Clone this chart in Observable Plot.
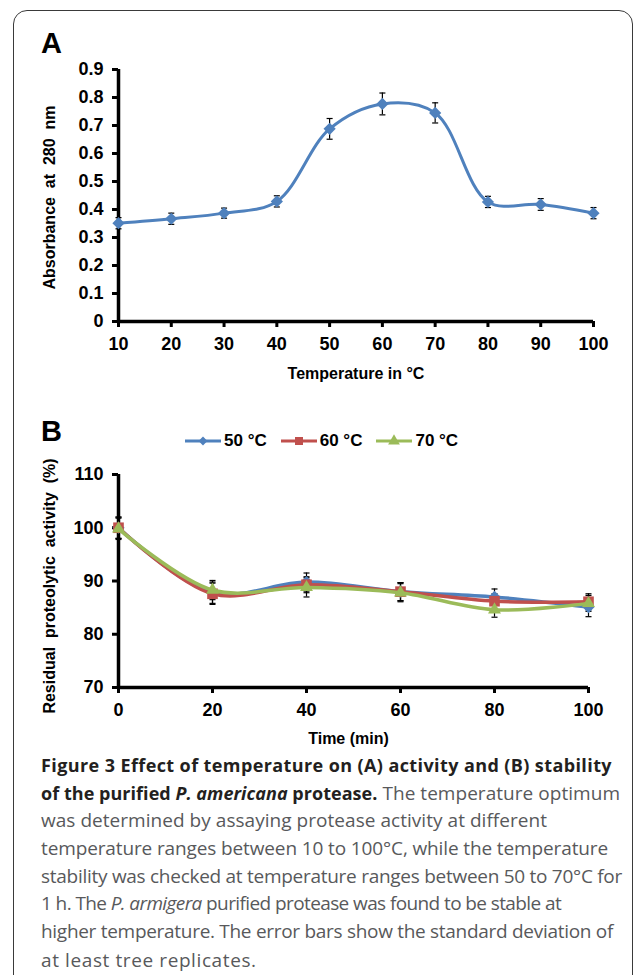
<!DOCTYPE html>
<html>
<head>
<meta charset="utf-8">
<script src="https://cdn.jsdelivr.net/npm/d3@7"></script>
<script src="https://cdn.jsdelivr.net/npm/@observablehq/plot@0.6"></script>
<style>
  html, body { margin: 0; padding: 0; background: #fff; }
  #page { position: relative; width: 634px; height: 975px; overflow: hidden; background: #fff; font-family: "Liberation Sans", Arial, sans-serif; }
  #frame { position: absolute; left: 13px; top: 10px; width: 620px; height: 1000px; border: 1.5px solid #3a3a3a; border-radius: 14px; box-sizing: border-box; }
  .panel-letter { position: absolute; left: 41px; font: bold 29px "Liberation Sans", Arial, sans-serif; line-height: 29px; color: #000; }
  #chartA, #chartB { position: absolute; left: 0; }
  #chartA { top: 0; }
  #chartB { top: 400px; }
  #legend { position: absolute; left: 185px; top: 431px; height: 20px; display: flex; align-items: center; gap: 14px; font: bold 17px "Liberation Sans", Arial, sans-serif; color: #000; }
  #legend .item { display: flex; align-items: center; }
  #legend .item span { margin-left: 3px; white-space: pre; }
  #caption { position: absolute; left: 41px; top: 752px; font-family: "Open Sans", sans-serif; font-size: 19px; line-height: 27.7px; color: #58595b; }
  #caption .ln { white-space: nowrap; height: 27.7px; }
  #caption .ln:last-child { height: 22px; line-height: 22px; padding-top: 3px; }
  #caption .ln > span { display: inline-block; }
  #caption b { color: #231f20; font-weight: 700; font-size: 18px; }
</style>
</head>
<body>
<div id="page">
  <div id="frame"></div>
  <div class="panel-letter" style="top:28.5px">A</div>
  <div class="panel-letter" style="top:416.5px">B</div>
  <div id="chartA"></div>
  <div id="chartB"></div>
  <div id="legend"></div>
  <div id="caption">
    <div class="ln"><span><b>Figure 3 Effect of temperature on (A) activity and (B) stability</b></span></div>
    <div class="ln"><span><b>of the purified <i>P. americana</i> protease.</b> The temperature optimum</span></div>
    <div class="ln"><span>was determined by assaying protease activity at different</span></div>
    <div class="ln"><span>temperature ranges between 10 to 100°C, while the temperature</span></div>
    <div class="ln"><span>stability was checked at temperature ranges between 50 to 70°C for</span></div>
    <div class="ln"><span>1 h. The <i>P. armigera</i> purified protease was found to be stable at</span></div>
    <div class="ln"><span>higher temperature. The error bars show the standard deviation of</span></div>
    <div class="ln"><span>at least tree replicates.</span></div>
  </div>
</div>
<script>
// ---------- Panel A data ----------
const tempA = [10, 20, 30, 40, 50, 60, 70, 80, 90, 100];
const absorbance = [0.351, 0.367, 0.387, 0.429, 0.688, 0.777, 0.745, 0.427, 0.418, 0.387];
const absorbanceErr = [0.02, 0.02, 0.018, 0.02, 0.037, 0.039, 0.036, 0.02, 0.021, 0.02];
const yTicksA = [0, 0.1, 0.2, 0.3, 0.4, 0.5, 0.6, 0.7, 0.8, 0.9];
const yTickLabelsA = ["0", "0.1", "0.2", "0.3", "0.4", "0.5", "0.6", "0.7", "0.8", "0.9"];
const xTicksA = [10, 20, 30, 40, 50, 60, 70, 80, 90, 100];
const xTickLabelsA = ["10", "20", "30", "40", "50", "60", "70", "80", "90", "100"];
const xTitleA = "Temperature in °C";
const yTitleA = "Absorbance  at  280  nm";

// ---------- Panel B data ----------
const timeB = [0, 20, 40, 60, 80, 100];
const seriesLabels = ["50 °C", "60 °C", "70 °C"];
const act50 = [100.0, 87.8, 89.8, 88.0, 87.0, 85.1];
const act60 = [100.0, 87.6, 89.3, 88.0, 86.2, 86.1];
const act70 = [99.8, 88.3, 88.8, 87.8, 84.6, 85.8];
const err50 = [2.0, 2.0, 1.7, 1.7, 1.5, 1.8];
const err60 = [2.0, 2.0, 1.5, 1.7, 1.4, 1.5];
const err70 = [2.0, 1.8, 1.8, 1.7, 1.4, 1.5];
const yTicksB = [70, 80, 90, 100, 110];
const yTickLabelsB = ["70", "80", "90", "100", "110"];
const xTicksB = [0, 20, 40, 60, 80, 100];
const xTickLabelsB = ["0", "20", "40", "60", "80", "100"];
const xTitleB = "Time (min)";
const yTitleB = "Residual  proteolytic  activity  (%)";

const colors = ["#4f81bd", "#c0504d", "#9bbb59"];
const symbols = ["diamond2", "square", "triangle"];
const symbolR = [5.5, 6, 4.8];

// error-bar cap symbol (horizontal dash)
const capSymbol = {
  draw(ctx, size) {
    const w = Math.sqrt(size) / 2;
    ctx.moveTo(-w, 0);
    ctx.lineTo(w, 0);
  }
};

const font = "Liberation Sans, Arial, sans-serif";
const axisCommon = {tickSize: 6, fontSize: 18, fontWeight: "bold", strokeWidth: 3, label: null};

function errorMarks(data, x) {
  return [
    Plot.ruleX(data, {x, y1: d => d.v - d.e, y2: d => d.v + d.e, stroke: "#000", strokeWidth: 1.2}),
    Plot.dot(data, {x, y: d => d.v + d.e, symbol: capSymbol, r: 3.4, fill: "none", stroke: "#000", strokeWidth: 1.2}),
    Plot.dot(data, {x, y: d => d.v - d.e, symbol: capSymbol, r: 3.4, fill: "none", stroke: "#000", strokeWidth: 1.2})
  ];
}

// ---------- Chart A ----------
const dataA = tempA.map((t, i) => ({t, v: absorbance[i], e: absorbanceErr[i]}));
const chartA = Plot.plot({
  width: 634, height: 400,
  marginLeft: 118, marginRight: 41, marginTop: 69, marginBottom: 79,
  x: {domain: [10, 100]},
  y: {domain: [0, 0.9]},
  style: {fontFamily: font, background: "transparent", color: "#000", overflow: "visible"},
  marks: [
    Plot.axisY({...axisCommon, ticks: yTicksA, tickFormat: d => yTickLabelsA[yTicksA.indexOf(d)], tickPadding: 9}),
    Plot.axisX({...axisCommon, ticks: xTicksA, tickFormat: d => xTickLabelsA[xTicksA.indexOf(d)], tickPadding: 10}),
    Plot.ruleY([0], {strokeWidth: 3.5, stroke: "#000"}),
    Plot.ruleX([10], {strokeWidth: 3.5, stroke: "#000"}),
    ...errorMarks(dataA, "t"),
    Plot.line(dataA, {x: "t", y: "v", curve: "catmull-rom", stroke: colors[0], strokeWidth: 3}),
    Plot.dot(dataA, {x: "t", y: "v", symbol: "diamond2", r: 5.5, fill: colors[0], stroke: "none"}),
    Plot.text([xTitleA], {text: d => d, frameAnchor: "bottom", lineAnchor: "top", dy: 46, fontSize: 16, fontWeight: "bold", fill: "#000"}),
    Plot.text([yTitleA], {text: d => d, frameAnchor: "left", textAnchor: "middle", rotate: -90, dx: -69, dy: 2, fontSize: 16, fontWeight: "bold", fill: "#000"})
  ]
});
document.getElementById("chartA").appendChild(chartA);

// ---------- Chart B ----------
const errB = [err50, err60, err70];
const seriesB = [act50, act60, act70].map((vals, s) =>
  timeB.map((t, i) => ({t, v: vals[i], e: errB[s][i], s: seriesLabels[s]}))
);
const chartB = Plot.plot({
  width: 634, height: 350,
  marginLeft: 118, marginRight: 46, marginTop: 74, marginBottom: 63,
  x: {domain: [0, 100]},
  y: {domain: [70, 110]},
  style: {fontFamily: font, background: "transparent", color: "#000", overflow: "visible"},
  marks: [
    Plot.axisY({...axisCommon, ticks: yTicksB, tickFormat: d => yTickLabelsB[yTicksB.indexOf(d)], tickPadding: 9}),
    Plot.axisX({...axisCommon, ticks: xTicksB, tickFormat: d => xTickLabelsB[xTicksB.indexOf(d)], tickPadding: 10}),
    Plot.ruleY([70], {strokeWidth: 3.5, stroke: "#000"}),
    Plot.ruleX([0], {strokeWidth: 3.5, stroke: "#000"}),
    ...seriesB.flatMap(d => errorMarks(d, "t")),
    ...seriesB.flatMap((d, s) => [
      Plot.line(d, {x: "t", y: "v", curve: "catmull-rom", stroke: colors[s], strokeWidth: 3.5}),
      Plot.dot(d, {x: "t", y: "v", symbol: symbols[s], r: symbolR[s], fill: colors[s], stroke: "none"})
    ]),
    Plot.text([xTitleB], {text: d => d, frameAnchor: "bottom", lineAnchor: "top", dy: 45, dx: -5, fontSize: 16, fontWeight: "bold", fill: "#000"}),
    Plot.text([yTitleB], {text: d => d, frameAnchor: "left", textAnchor: "middle", rotate: -90, dx: -69, dy: 5, fontSize: 16, fontWeight: "bold", fill: "#000"})
  ]
});
document.getElementById("chartB").appendChild(chartB);

// ---------- Legend ----------
const legend = document.getElementById("legend");
const legendSymbolSize = [50, 64, 60];
const typeMap = {diamond2: d3.symbolDiamond2, square: d3.symbolSquare, triangle: d3.symbolTriangle};
seriesLabels.forEach((label, s) => {
  const item = document.createElement("div");
  item.className = "item";
  const path = d3.symbol(typeMap[symbols[s]], legendSymbolSize[s])();
  item.innerHTML =
    `<svg width="36" height="20" viewBox="0 0 36 20"><line x1="0" x2="36" y1="10" y2="10" stroke="${colors[s]}" stroke-width="3"/>` +
    `<path d="${path}" transform="translate(18,10)" fill="${colors[s]}"/></svg><span>${label}</span>`;
  legend.appendChild(item);
});

// ---------- Caption line fitting (match the reference line lengths) ----------
const captionLineWidths = [571, 579, 506, 567, 581, 515, 572, 242];
document.querySelectorAll("#caption .ln > span").forEach((el, i) => {
  const natural = el.getBoundingClientRect().width;
  const chars = el.textContent.length;
  const ls = Math.max(-0.6, Math.min(0.6, (captionLineWidths[i] - natural) / Math.max(1, chars)));
  el.style.letterSpacing = ls.toFixed(3) + "px";
});
</script>
</body>
</html>
